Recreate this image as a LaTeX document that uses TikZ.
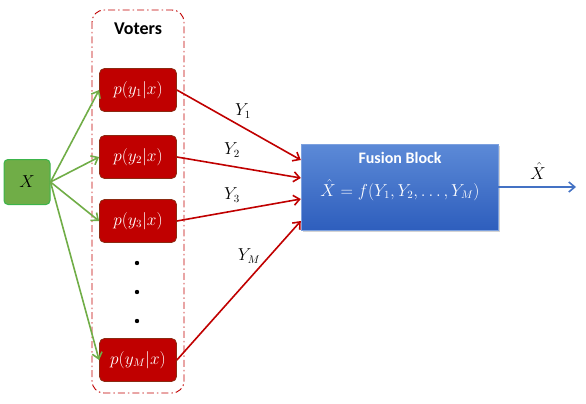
\documentclass[tikz,border=0pt]{standalone}
\usepackage{amsmath}
\usepackage{fontspec}
\newfontfamily\calfont{Carlito}
\usepackage{tikz}
\usetikzlibrary{arrows.meta, positioning, shadows}
\definecolor{ingreen}{HTML}{70AD47}
\definecolor{ingreenline}{HTML}{3CB44B}
\definecolor{voterred}{HTML}{C00000}
\definecolor{voterline}{HTML}{8B2A12}
\definecolor{fusiontop}{HTML}{5C8AD7}
\definecolor{fusionbot}{HTML}{2E5EBD}
\definecolor{outblue}{HTML}{4472C4}

\begin{document}
\begin{tikzpicture}[x=1pt, y=-1pt, >={Straight Barb[length=6pt,width=10pt]},
  inbox/.style={draw=ingreenline, fill=ingreen, line width=1pt, rounded corners=4pt,
    minimum width=46pt, minimum height=45pt, font=\fontsize{16}{19}\selectfont},
  voterbox/.style={draw=voterline, fill=voterred, text=white, line width=0.8pt, rounded corners=5pt,
    minimum width=77pt, minimum height=43pt, font=\fontsize{16}{19}\selectfont},
  fusionbox/.style={top color=fusiontop, bottom color=fusionbot, draw=fusiontop!80!white,
    minimum width=197pt, minimum height=86pt, drop shadow={opacity=0.35}},
  greenarrow/.style={->, ingreen, line width=1.6pt},
  redarrow/.style={->, voterred, line width=1.6pt},
  ylabel/.style={inner sep=1pt, font=\fontsize{16}{19}\selectfont}]
  \useasboundingbox (0,0) rectangle (586,404);
  % voters frame
  \draw[voterred, line width=0.9pt, rounded corners=12pt,
    dash pattern=on 7pt off 3pt on 1.5pt off 3pt] (92,10) rectangle (184,393);
  \node[font=\calfont\bfseries\fontsize{18}{20}\selectfont] (votertitle) at (138,29) {Voters};
  % input
  \node[inbox] (X) at (27,182) {$X$};
  % voters
  \node[voterbox] (v1) at (138,90) {$p(y_1|x)$};
  \node[voterbox] (v2) at (138,157) {$p(y_2|x)$};
  \node[voterbox] (v3) at (138,221) {$p(y_3|x)$};
  \node[voterbox] (vM) at (138,360) {$p(y_M|x)$};
  \foreach \yy in {263,292,321}
    \fill (137,\yy) circle (2.2pt);
  % fusion
  \node[fusionbox] (fusion) at (399.5,187) {};
  \node[inner sep=1pt, text=white, font=\calfont\bfseries\fontsize{16}{18}\selectfont] (fusiontitle) at (400,158) {Fusion Block};
  \node[inner sep=1pt, text=white, font=\fontsize{16}{19}\selectfont] (fusioneq) at (400,190) {$\hat{X}=f(Y_1,Y_2,\dots,Y_M)$};
  % X to voters
  \foreach \v in {v1,v2,v3,vM}
    \draw[greenarrow] (X.east) -- (\v.west);
  % voters to fusion
  \draw[redarrow] (v1.east) -- ([yshift=27pt]fusion.west);
  \draw[redarrow] (v2.east) -- ([yshift=9pt]fusion.west);
  \draw[redarrow] (v3.east) -- ([yshift=-12pt]fusion.west);
  \draw[redarrow] (vM.east) -- ([yshift=-34pt]fusion.west);
  \node[ylabel] (y1) at (243,111) {$Y_1$};
  \node[ylabel] (y2) at (232,150) {$Y_2$};
  \node[ylabel] (y3) at (232,195) {$Y_3$};
  \node[ylabel] (yM) at (249,256) {$Y_M$};
  % output
  \coordinate (out) at (576,187);
  \draw[->, outblue, line width=1.6pt] (fusion.east) -- (out);
  \node[ylabel] (xhat) at (538,171) {$\hat{X}$};
\end{tikzpicture}
\end{document}
